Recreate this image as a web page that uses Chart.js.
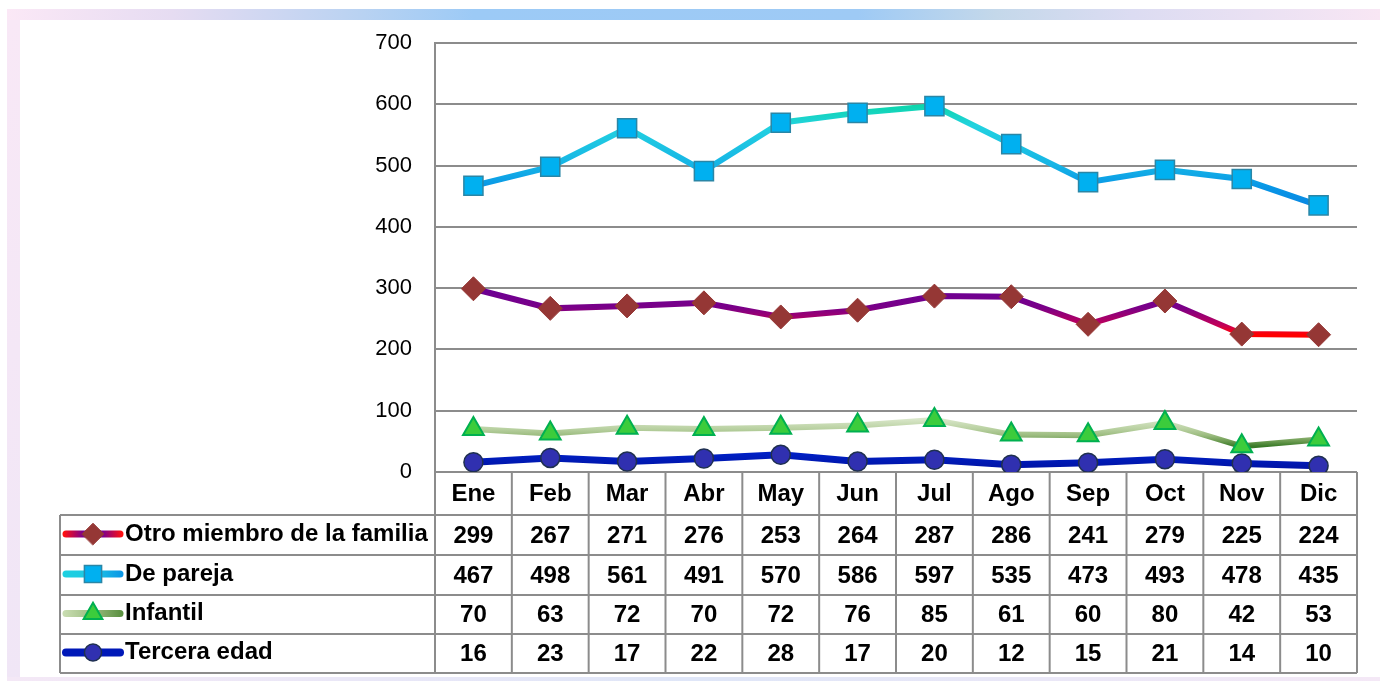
<!DOCTYPE html>
<html>
<head>
<meta charset="utf-8">
<script src="https://cdn.jsdelivr.net/npm/chart.js@4/dist/chart.umd.min.js"></script>
<style>
  html, body { margin: 0; padding: 0; background: #fff; }
  #wrap { position: relative; width: 1380px; height: 681px; overflow: hidden; background: #fff; }
  .bar-top { position: absolute; left: 7px; top: 9px; width: 1373px; height: 11px;
    background: linear-gradient(to right, #fbe8f6 0%, #e6dcf2 12%, #b8d2f2 26%, #9ccaf6 34%, #9ecaf5 62%, #c4d8ea 72%, #dcdcf2 82%, #f8e6f4 100%); }
  .bar-left { position: absolute; left: 7px; top: 20px; width: 13px; height: 661px;
    background: linear-gradient(to bottom, #f8e8f6, #f0e6f6); }
  .bar-bottom { position: absolute; left: 7px; top: 677px; width: 1373px; height: 4px;
    background: linear-gradient(to right, #f4e8f6, #dfe6f8 50%, #f4e8f6); }
  canvas { position: absolute; left: 0; top: 0; }
</style>
</head>
<body>
<div id="wrap">
  <div class="bar-top"></div>
  <div class="bar-left"></div>
  <div class="bar-bottom"></div>
  <canvas id="chart" width="1380" height="681"></canvas>
</div>
<script>
const months = ["Ene", "Feb", "Mar", "Abr", "May", "Jun", "Jul", "Ago", "Sep", "Oct", "Nov", "Dic"];
const yTicks = [0, 100, 200, 300, 400, 500, 600, 700];

const otroMiembro = [299, 267, 271, 276, 253, 264, 287, 286, 241, 279, 225, 224];
const dePareja    = [467, 498, 561, 491, 570, 586, 597, 535, 473, 493, 478, 435];
const infantil    = [70, 63, 72, 70, 72, 76, 85, 61, 60, 80, 42, 53];
const terceraEdad = [16, 23, 17, 22, 28, 17, 20, 12, 15, 21, 14, 10];

// colour ramps along the value axis (value -> colour)
const rampOtro    = [[300, "#6a0094"], [268, "#7a0088"], [252, "#a4006c"], [240, "#c0005a"], [230, "#ee0020"], [224, "#ff0000"]];
const rampPareja  = [[600, "#0cd6a8"], [565, "#22d2e0"], [500, "#16b4e6"], [465, "#0896e6"], [430, "#0a86e2"]];
const rampInfantil = [[86, "#d8e6c8"], [70, "#b8d0a0"], [60, "#9cbc80"], [50, "#6a9a50"], [42, "#3a7a28"]];
const rampTercera = [[30, "#0020c4"], [8, "#0014a8"]];

// legend key colours (left -> right)
const keyOtro     = ["#ff1010", "#7a0090", "#7a0090", "#ff1010"];
const keyPareja   = ["#1ed0e0", "#1ec8e4", "#0a96e6"];
const keyInfantil = ["#c8dcb0", "#9cbc80", "#5a9040"];
const keyTercera  = ["#0018b8", "#0018b8"];

const GRID = "#8c8c8c";
const FONT = "'Liberation Sans', Arial, sans-serif";

function vGradient(ramp) {
  return (context) => {
    const chart = context.chart;
    const ys = chart.scales.y;
    if (!chart.chartArea || !ys) return ramp[0][1];
    const y0 = ys.getPixelForValue(ramp[0][0]);
    const y1 = ys.getPixelForValue(ramp[ramp.length - 1][0]);
    const g = chart.ctx.createLinearGradient(0, y0, 0, y1);
    ramp.forEach(([v, c]) => {
      const t = (ys.getPixelForValue(v) - y0) / (y1 - y0);
      g.addColorStop(Math.min(1, Math.max(0, t)), c);
    });
    return g;
  };
}

const series = [
  { label: "Otro miembro de la familia", data: otroMiembro, ramp: rampOtro, key: keyOtro,
    pointStyle: "rectRot", radius: 12, fill: "#953735", edge: "#953735", bw: 1, lw: 6 },
  { label: "De pareja", data: dePareja, ramp: rampPareja, key: keyPareja,
    pointStyle: "rect", radius: 13.5, fill: "#00b0f0", edge: "#2a86a6", bw: 1.5, lw: 6 },
  { label: "Infantil", data: infantil, ramp: rampInfantil, key: keyInfantil,
    pointStyle: "triangle", radius: 12, fill: "#3ccc3c", edge: "#00b050", bw: 2, lw: 6 },
  { label: "Tercera edad", data: terceraEdad, ramp: rampTercera, key: keyTercera,
    pointStyle: "circle", radius: 9.5, fill: "#3030b0", edge: "#1f3050", bw: 1.5, lw: 7 }
];

// ── DATA TABLE UNDER THE PLOT ──
const tablePlugin = {
  id: "dataTable",
  afterDraw(chart) {
    const { ctx, chartArea, scales } = chart;
    const xs = scales.x;
    const left = chartArea.left, right = chartArea.right, bottom = chartArea.bottom;
    const rowLines = [515, 555, 595, 634, 673];
    const tableLeft = 60;
    const step = (right - left) / months.length;

    ctx.save();
    ctx.strokeStyle = GRID;
    ctx.lineWidth = 2;
    ctx.beginPath();
    ctx.moveTo(left, chartArea.top);
    ctx.lineTo(left, rowLines[rowLines.length - 1]);
    for (let i = 1; i <= months.length; i++) {
      const x = left + i * step;
      ctx.moveTo(x, bottom);
      ctx.lineTo(x, rowLines[rowLines.length - 1]);
    }
    rowLines.forEach(y => { ctx.moveTo(tableLeft, y); ctx.lineTo(right, y); });
    ctx.moveTo(tableLeft, rowLines[0]);
    ctx.lineTo(tableLeft, rowLines[rowLines.length - 1]);
    ctx.stroke();

    ctx.fillStyle = "#000";
    ctx.textAlign = "center";
    ctx.textBaseline = "middle";
    ctx.font = "bold 24px " + FONT;
    months.forEach((m, i) => ctx.fillText(m, xs.getPixelForValue(i), (bottom + rowLines[0]) / 2 + 1));

    series.forEach((s, r) => {
      const yc = (rowLines[r] + rowLines[r + 1]) / 2 + 1;
      ctx.fillStyle = "#000";
      s.data.forEach((v, i) => ctx.fillText(String(v), xs.getPixelForValue(i), yc));

      // legend key
      const ky = yc - 2;
      const g = ctx.createLinearGradient(64, 0, 122, 0);
      s.key.forEach((c, k) => g.addColorStop(k / (s.key.length - 1), c));
      ctx.strokeStyle = g;
      ctx.lineWidth = s.lw + 1;
      ctx.lineCap = "round";
      ctx.beginPath();
      ctx.moveTo(66, ky);
      ctx.lineTo(120, ky);
      ctx.stroke();
      ctx.fillStyle = s.fill;
      ctx.strokeStyle = s.edge;
      ctx.lineWidth = s.bw;
      Chart.helpers.drawPoint(ctx, { pointStyle: s.pointStyle, radius: s.radius * 0.9, rotation: 0, borderWidth: s.bw }, 93, ky);

      ctx.fillStyle = "#000";
      ctx.textAlign = "left";
      ctx.fillText(s.label, 125, ky);
      ctx.textAlign = "center";
    });
    ctx.restore();
  }
};

new Chart(document.getElementById("chart"), {
  type: "line",
  data: {
    labels: months,
    datasets: series.map(s => ({
      label: s.label,
      data: s.data,
      borderColor: vGradient(s.ramp),
      borderWidth: s.lw,
      tension: 0,
      pointStyle: s.pointStyle,
      pointRadius: s.radius,
      pointHoverRadius: s.radius,
      pointBackgroundColor: s.fill,
      pointBorderColor: s.edge,
      pointBorderWidth: s.bw
    }))
  },
  options: {
    responsive: false,
    animation: false,
    events: [],
    layout: { padding: { left: 0, right: 23, top: 43, bottom: 209 } },
    plugins: { legend: { display: false }, tooltip: { enabled: false } },
    scales: {
      x: { display: false, offset: true },
      y: {
        min: 0, max: 700,
        afterFit: s => { s.width = 435; },
        afterBuildTicks: s => { s.ticks = yTicks.map(v => ({ value: v })); },
        border: { display: true, color: GRID, width: 2 },
        grid: { color: GRID, lineWidth: 2, drawTicks: false },
        ticks: { color: "#000", padding: 23, font: { family: FONT, size: 22 } }
      }
    }
  },
  plugins: [tablePlugin]
});
</script>
</body>
</html>
